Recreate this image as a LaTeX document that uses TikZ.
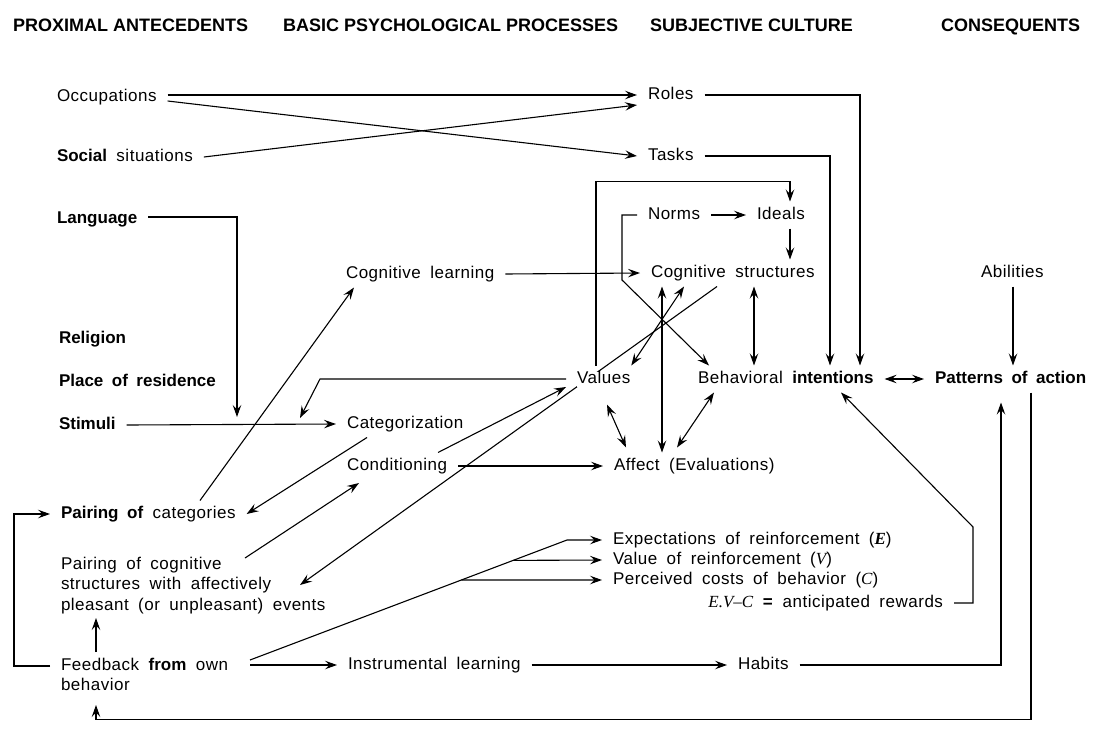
\documentclass[tikz,border=0pt]{standalone}
\usepackage{fontspec}
\setmainfont{Liberation Sans}[LetterSpace=3,WordSpace=1.8]
\newfontfamily\hdfam{Liberation Sans}
\newfontfamily\vfam{Liberation Serif}
\usetikzlibrary{arrows.meta,calc,backgrounds}
\newcommand\lblfont{\fontsize{17}{20.5}\selectfont}
\newcommand\hdfont{\hdfam\bfseries\fontsize{18}{20}\selectfont}
\newcommand\vv[1]{{\vfam\itshape #1}}
\newcommand\hv[1]{{\addfontfeature{LetterSpace=0}\bfseries #1}}
\tikzset{
  >={Stealth[length=12pt,width=8.5pt,inset=4.5pt]},
  plbl/.style={anchor=west, inner sep=0pt, outer xsep=11pt, outer ysep=6pt, text height=11.5pt, text depth=3.5pt, font=\lblfont},
  plblr/.style={plbl, anchor=east},
  pmulti/.style={anchor=north west, inner sep=0pt, outer sep=0pt, align=left, font=\lblfont},
  phead/.style={anchor=west, inner sep=0pt, text height=13pt, text depth=0pt, font=\hdfont},
  plink/.style={->, line width=1.1pt},
  pboth/.style={<->, line width=1.1pt}
}
\begin{document}
\begin{tikzpicture}[x=1pt,y=-1pt]
\useasboundingbox (0,0) rectangle (1094,728);
\begin{scope}[on background layer]
\fill[white] (0,0) rectangle (1094,728);
\end{scope}

% column heads
\node[phead] (h1) at (13,25) {PROXIMAL ANTECEDENTS};
\node[phead] (h2) at (283,25) {BASIC PSYCHOLOGICAL PROCESSES};
\node[phead] (h3) at (650,25) {SUBJECTIVE CULTURE};
\node[phead] (h4) at (941,25) {CONSEQUENTS};

\node[plbl] (occ) at (46,97) {Occupations};
\node[plbl] (soc) at (46,157) {\hv{Social} situations};
\node[plbl] (lang) at (46,219) {\hv{Language}};
\node[plbl] (rel) at (48,339) {\hv{Religion}};
\node[plbl] (res) at (48,382) {\hv{Place of residence}};
\node[plbl] (stim) at (48,425) {\hv{Stimuli}};
\node[plbl] (paircat) at (50,514) {\hv{Pairing of} categories};
\node[pmulti] (paircog) at (61,557) {Pairing of cognitive\\structures with affectively\\pleasant (or unpleasant) events};
\node[pmulti] (fb) at (61,658) {Feedback \hv{from} own\\behavior};

\node[plbl] (coglearn) at (335,274) {Cognitive learning};
\node[plbl] (categ) at (336,424) {Categorization};
\node[plbl] (cond) at (336,466) {Conditioning};
\node[plbl] (instr) at (337,665) {Instrumental learning};

\node[plbl] (roles) at (637,95) {Roles};
\node[plbl] (tasks) at (637,156) {Tasks};
\node[plbl] (norms) at (637,215) {Norms};
\node[plbl] (ideals) at (746,215) {Ideals};
\node[plbl] (cogstr) at (640,273) {Cognitive structures};
\node[plbl, fill=white] (values) at (566,379) {Values};
\node[plbl] (behint) at (687,379) {Behavioral \hv{intentions}};
\node[plbl] (affect) at (603,466) {Affect (Evaluations)};
\node[plbl] (expect) at (602,540) {Expectations of reinforcement (\vv{\textbf{E}})};
\node[plbl] (valre) at (602,560) {Value of reinforcement (\vv{V})};
\node[plbl] (cost) at (602,580) {Perceived costs of behavior (\vv{C})};
\node[plblr] (antic) at (954,603) {\vv{E.V–C} \textbf{=} anticipated rewards};
\node[plbl] (habits) at (727,665) {Habits};

\node[plbl] (abil) at (970,273) {Abilities};
\node[plbl] (patt) at (924,379) {\hv{Patterns of action}};

\coordinate (langin) at (237,417);
\coordinate (valin) at (300,418);
\coordinate (fbS) at ([xshift=189pt,yshift=-2pt]fb.north west);
\coordinate (fbT) at ([xshift=-35pt]expect.west);

\draw[plink] ([yshift=2pt]occ.east) -- (roles.west);
\draw[plink] ([yshift=-4pt]occ.east) -- (tasks.west);
\draw[plink] (soc.east) -- ([yshift=-10pt]roles.west);
\draw[plink] ([yshift=2pt]lang.east) -| (langin);
\draw[plink] (stim.east) -- (categ.west);
\draw[plink] (values.west) -- ++(-246,0) -- (valin);
\draw[plink] ([xshift=150pt]paircat.north west) -- ([xshift=19pt]coglearn.south west);
\draw[plink] (coglearn.east) -- (cogstr.west);
\draw[plink] ([xshift=30pt]values.north west) |- ([xshift=44pt,yshift=20pt]ideals.north west) -- ([xshift=44pt]ideals.north west);
\draw[plink] (norms.east) -- (ideals.west);
\draw[plink] ([xshift=44pt]ideals.south west) -- ([xshift=150pt]cogstr.north west);
\draw[plink] (norms.west) -- ++(-15,0) -- ++(0,65) -- ([xshift=22pt]behint.north west);
\draw[pboth] ([xshift=22pt]cogstr.south west) -- ([xshift=59pt]affect.north west);
\draw[pboth] ([xshift=114pt]cogstr.south west) -- ([xshift=67pt]behint.north west);
\draw[pboth] ([xshift=-10pt]values.north east) -- ([xshift=44pt]cogstr.south west);
\draw[pboth] ([xshift=41pt,yshift=-12pt]values.south west) -- ([xshift=23pt,yshift=5pt]affect.north west);
\draw[pboth] ([xshift=27pt]behint.south west) -- ([xshift=74pt,yshift=5pt]affect.north west);
\draw[pboth] (behint.east) -- (patt.west);
\draw[plink] (roles.east) -| ([xshift=173pt]behint.north west);
\draw[plink] (tasks.east) -| ([xshift=143pt]behint.north west);
\draw[plink] ([xshift=43pt]abil.south west) -- ([xshift=89pt]patt.north west);
\draw[plink] (antic.east) -- ++(19,0) -- ++(0,-76) -- ([xshift=154pt]behint.south west);
\draw[plink] (habits.east) -| ([xshift=77pt,yshift=-10pt]patt.south west);
\draw[plink] ([xshift=107pt]patt.south west) -- ++(0,327) -| ([xshift=35pt,yshift=-47pt]fb.north west);
\draw[plink] ([xshift=-11pt,yshift=-8pt]fb.north west) -- ++(-36,0) |- (paircat.west);
\draw[plink] ([xshift=35pt,yshift=6pt]fb.north west) -- ([xshift=35pt,yshift=-61pt]paircog.north west);
\draw[plink] ([xshift=189pt,yshift=-7pt]fb.north west) -- (instr.west);
\draw[plink] (instr.east) -- (habits.west);
\draw[plink] (fbS) -- (fbT) -- (expect.west);
\draw[plink] ($(fbS)!0.83!(fbT)$) -- (valre.west);
\draw[plink] ($(fbS)!0.667!(fbT)$) -- (cost.west);
\draw[plink] ([xshift=31pt]categ.south west) -- (paircat.east);
\draw[plink] ([xshift=184pt,yshift=-1pt]paircog.north west) -- ([xshift=23pt,yshift=-3.5pt]cond.south west);
\draw[plink] ([xshift=102pt]cond.north west) -- ([yshift=-8pt]values.west);
\draw[plink] (cond.east) -- (affect.west);

\begin{scope}[on background layer]
\draw[plink] ([xshift=77pt]cogstr.south west) -- ([xshift=239pt,yshift=-28pt]paircog.north west);
\end{scope}
\end{tikzpicture}
\end{document}
